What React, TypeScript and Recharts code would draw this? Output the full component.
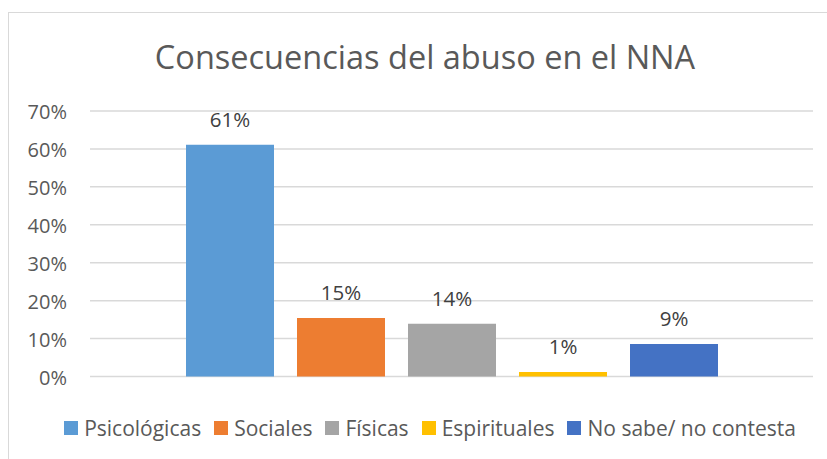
import React from 'react';
import { BarChart, Bar, XAxis, YAxis, CartesianGrid, Legend, LabelList } from 'recharts';

const chartTitle = 'Consecuencias del abuso en el NNA';
const categories = ['NNA'];
const seriesNames = ['Psicológicas', 'Sociales', 'Físicas', 'Espirituales', 'No sabe/ no contesta'];
const seriesValues = [0.611, 0.154, 0.139, 0.012, 0.086];
const seriesColors = ['#5B9BD5', '#ED7D31', '#A5A5A5', '#FFC000', '#4472C4'];
const yTicks = [0, 0.1, 0.2, 0.3, 0.4, 0.5, 0.6, 0.7];

const data = categories.map((name) => {
  const row: Record<string, string | number> = { name };
  seriesNames.forEach((s, i) => {
    row['s' + i] = seriesValues[i];
  });
  return row;
});

const FONT = '"Open Sans", sans-serif';
const pct = (v: number) => `${Math.round(v * 100)}%`;

const YTick = (props: any) => {
  const { x, y, payload } = props;
  return (
    <text x={x} y={y + 8} textAnchor="end" fill="#595959" fontSize={20} fontFamily={FONT}>
      {pct(payload.value)}
    </text>
  );
};

const DataLabel = (props: any) => {
  const { x, y, width, value } = props;
  return (
    <text x={x + width / 2} y={y - 18} textAnchor="middle" fill="#404040" fontSize={20.5} fontFamily={FONT}>
      {pct(value)}
    </text>
  );
};

const LegendContent = (props: any) => {
  const items = [...(props.payload || [])].sort(
    (a: any, b: any) => seriesNames.indexOf(a.value) - seriesNames.indexOf(b.value)
  );
  return (
    <div style={{ display: 'flex', justifyContent: 'center', alignItems: 'center', fontFamily: FONT }}>
      {items.map((p: any, i: number) => (
        <div key={i} style={{ display: 'flex', alignItems: 'center', marginRight: i < items.length - 1 ? 13 : 0 }}>
          <div style={{ width: 14, height: 14, background: p.color, marginRight: 6 }} />
          <span style={{ fontSize: 21, color: '#595959', lineHeight: '28px', whiteSpace: 'nowrap' }}>{p.value}</span>
        </div>
      ))}
    </div>
  );
};

export default function App() {
  return (
    <div style={{ position: 'absolute', left: 0, top: 0, width: 827, height: 459, overflow: 'hidden', background: '#fff' }}>
      <div style={{ position: 'absolute', left: 8, top: 12, width: 900, height: 500, border: '1.5px solid #D9D9D9', boxSizing: 'border-box' }} />
      <div style={{ position: 'absolute', left: 0, top: 0 }}>
        <BarChart
          width={827}
          height={459}
          data={data}
          margin={{ top: 111, right: 14, bottom: 82.5, left: 0 }}
          barSize={88}
          barGap={23}
        >
          <CartesianGrid vertical={false} stroke="#D9D9D9" strokeWidth={1.5} />
          <XAxis dataKey="name" hide />
          <YAxis
            width={90}
            domain={[0, 0.7]}
            ticks={yTicks}
            axisLine={false}
            tickLine={false}
            tickSize={0}
            tickMargin={23}
            tick={<YTick />}
            interval={0}
          />
          <Legend
            layout="horizontal"
            verticalAlign="middle"
            align="center"
            wrapperStyle={{ top: 414, left: 0, width: 860 }}
            content={<LegendContent />}
          />
          {seriesNames.map((s, i) => (
            <Bar key={s} dataKey={'s' + i} name={s} fill={seriesColors[i]} isAnimationActive={false}>
              <LabelList dataKey={'s' + i} content={<DataLabel />} />
            </Bar>
          ))}
        </BarChart>
      </div>
      <svg width={827} height={459} style={{ position: 'absolute', left: 0, top: 0, pointerEvents: 'none' }}>
        <text x={425} y={69} textAnchor="middle" fill="#595959" fontSize={32.5} fontFamily={FONT}>
          {chartTitle}
        </text>
      </svg>
    </div>
  );
}
